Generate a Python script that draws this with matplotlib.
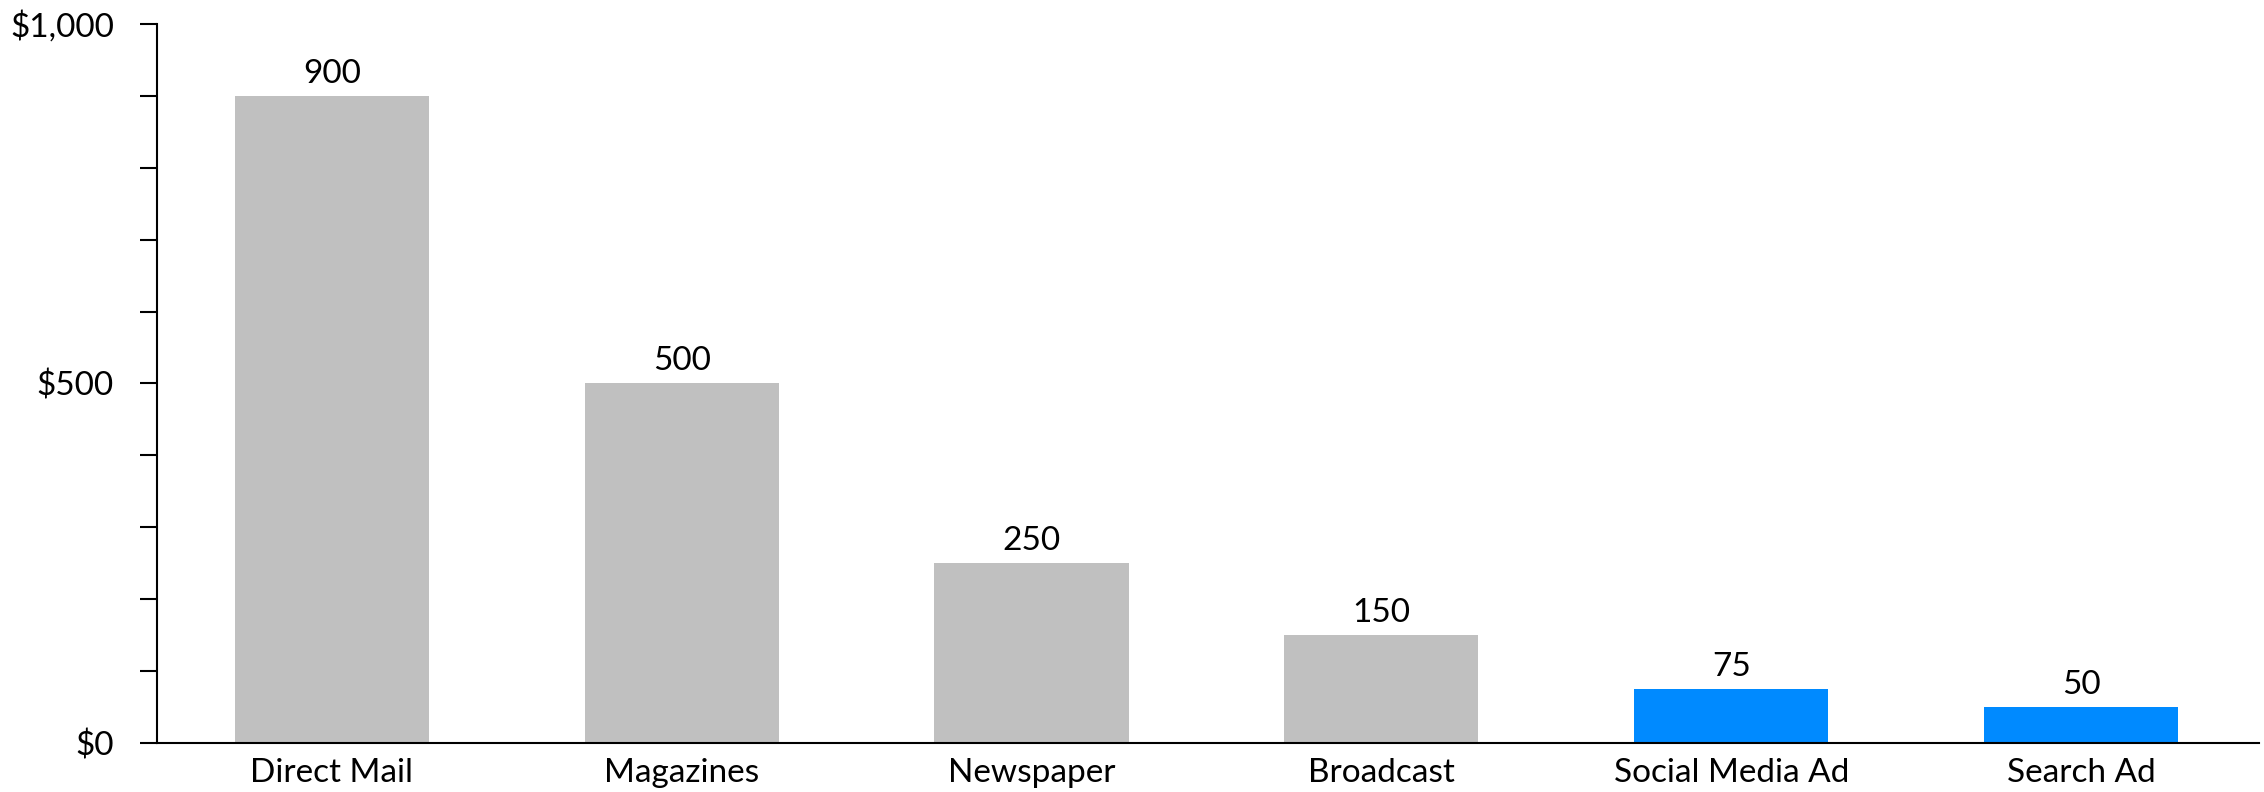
import matplotlib.pyplot as plt
from matplotlib.ticker import FuncFormatter, MultipleLocator

# Data
channels = ['Direct Mail', 'Magazines', 'Newspaper', 'Broadcast', 'Social Media Ad', 'Search Ad']
costs = [900, 500, 250, 150, 75, 50]
is_digital = [False, False, False, False, True, True]

gray = '#C0C0C0'
blue = '#008AFF'

plt.rcParams['font.family'] = ['Lato', 'DejaVu Sans']

fig = plt.figure(figsize=(22.64, 7.92), dpi=100)
ax = fig.add_axes([0.0693, 0.0619, 0.9287, 0.9078])

colors = [blue if d else gray for d in is_digital]
bars = ax.bar(range(len(channels)), costs, width=0.555, color=colors)

# value labels above bars
for b, v in zip(bars, costs):
    ax.text(b.get_x() + b.get_width() / 2, v + 10, str(v),
            ha='center', va='bottom', fontsize=24)

ax.set_xlim(-0.5, 5.51)
ax.set_ylim(0, 1000)
ax.set_xticks(range(len(channels)))
ax.set_xticklabels(channels, fontsize=24)
ax.tick_params(axis='x', length=0, pad=11)

ax.yaxis.set_major_locator(MultipleLocator(500))
ax.yaxis.set_minor_locator(MultipleLocator(100))
ax.yaxis.set_major_formatter(FuncFormatter(lambda v, p: '${:,.0f}'.format(v)))
ax.tick_params(axis='y', which='both', length=12, width=1.5, labelsize=24, pad=19)

for s in ['top', 'right']:
    ax.spines[s].set_visible(False)
for s in ['left', 'bottom']:
    ax.spines[s].set_linewidth(1.5)

fig.savefig('out.png', dpi=100)
